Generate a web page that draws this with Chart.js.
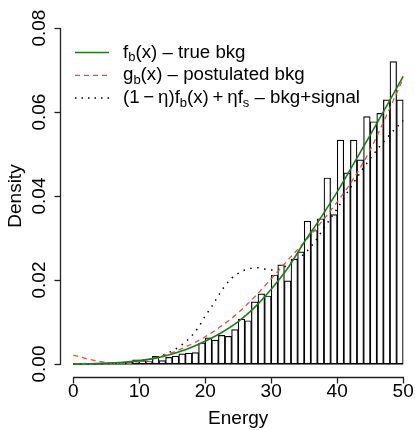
<!DOCTYPE html>
<html>
<head>
<meta charset="utf-8">
<script src="https://cdn.jsdelivr.net/npm/chart.js@4.4.1/dist/chart.umd.min.js"></script>
<style>
  html, body { margin: 0; padding: 0; background: #fff; }
  #chart { display: block; }
</style>
</head>
<body>
<canvas id="chart" width="415" height="430"></canvas>
<script>
// histogram: 50 bins of width 1 on 0..50 (density)
const binLeft = [0, 1, 2, 3, 4, 5, 6, 7, 8, 9, 10, 11, 12, 13, 14, 15, 16, 17, 18, 19,
  20, 21, 22, 23, 24, 25, 26, 27, 28, 29, 30, 31, 32, 33, 34, 35, 36, 37, 38, 39,
  40, 41, 42, 43, 44, 45, 46, 47, 48, 49];
const binDensity = [0, 0.0002, 0, 0.0001, 0.0001, 0.0002, 0.0001, 0.0004, 0.0004, 0.0010,
  0.0008, 0.0006, 0.0018, 0.0008, 0.0016, 0.0019, 0.0024, 0.0026, 0.0027, 0.0050,
  0.0062, 0.0057, 0.0068, 0.0066, 0.0082, 0.0107, 0.0103, 0.0148, 0.0167, 0.0162,
  0.0212, 0.0236, 0.0198, 0.0250, 0.0267, 0.0340, 0.0318, 0.0346, 0.0443, 0.0356,
  0.0533, 0.0455, 0.0533, 0.0486, 0.0589, 0.0577, 0.0597, 0.0629, 0.0720, 0.0629];

// curves
const curveX = [0, 2.5, 5, 7.5, 10, 12.5, 15, 17.5, 20, 22.5, 25, 27.5, 30, 32.5, 35, 37.5, 40, 42.5, 45, 47.5, 50];
const trueBkg = [0, 0.00005, 0.0002, 0.0004, 0.0008, 0.0014, 0.0024, 0.0037, 0.0054, 0.0075, 0.0101,
  0.0135, 0.0178, 0.0228, 0.0290, 0.0348, 0.0410, 0.0477, 0.0545, 0.0615, 0.0685];
const postBkg = [0.0021, 0.0011, 0.0004, 0.0002, 0.0006, 0.0015, 0.0027, 0.0044, 0.0065, 0.0091, 0.0122,
  0.0160, 0.0203, 0.0247, 0.0290, 0.0336, 0.0386, 0.0442, 0.0510, 0.0593, 0.0680];

const sigX = [0, 5, 10, 12.5, 15, 16.5, 18, 19, 20, 21, 22, 23, 24, 25, 26, 27, 28, 29, 30, 31,
  32, 33, 34, 35, 36.5, 38, 40, 42.5, 45, 47.5, 50];
const bkgSignal = [0, 0.0001, 0.0007, 0.0015, 0.0031, 0.0046, 0.0068, 0.0088, 0.0114, 0.0137,
  0.0163, 0.0186, 0.0204, 0.0216, 0.0224, 0.0228, 0.0229, 0.0226, 0.0224, 0.0225,
  0.0231, 0.0240, 0.0250, 0.0262, 0.0289, 0.0324, 0.0370, 0.0432, 0.0489, 0.0538, 0.0580];

const xTicks = [0, 10, 20, 30, 40, 50];
const yTicks = [0, 0.02, 0.04, 0.06, 0.08];
const yTickLabels = ["0.00", "0.02", "0.04", "0.06", "0.08"];

const FONT = '"Liberation Sans", Arial, Helvetica, sans-serif';
const GREEN = "#1f7a1f";
const RED = "#e8503a";

const legendRows = [
  { color: GREEN, dash: [], width: 1.6,
    parts: [["f"], ["b", 1], ["(x) \u2013 true bkg"]] },
  { color: RED, dash: [5, 4], width: 1.3,
    parts: [["g"], ["b", 1], ["(x) \u2013 postulated bkg"]] },
  { color: "#000", dash: [1.5, 5], width: 1.5,
    parts: [["(1\u2009\u2212\u2009\u03b7)f"], ["b", 1], ["(x)\u2009+\u2009\u03b7f"], ["s", 1], [" \u2013 bkg+signal"]] }
];

function strokeLine(ctx, x1, y1, x2, y2) {
  ctx.beginPath();
  ctx.moveTo(x1, y1);
  ctx.lineTo(x2, y2);
  ctx.stroke();
}

const rAxes = {
  id: "rAxes",
  beforeDatasetsDraw(chart) {
    const ctx = chart.ctx;
    const x = chart.scales.x;
    const y = chart.scales.y;
    ctx.save();
    ctx.strokeStyle = "#000";
    ctx.lineWidth = 1.2;
    strokeLine(ctx, x.getPixelForValue(binLeft[0]), y.getPixelForValue(0),
      x.getPixelForValue(binLeft[binLeft.length - 1] + 1), y.getPixelForValue(0));
    ctx.restore();
  },
  afterDraw(chart) {
    const ctx = chart.ctx;
    const x = chart.scales.x;
    const y = chart.scales.y;
    const area = chart.chartArea;
    ctx.save();
    ctx.setLineDash([]);
    ctx.strokeStyle = "#222";
    ctx.lineWidth = 1.3;
    ctx.fillStyle = "#000";
    ctx.font = "19px " + FONT;

    // x axis
    const ax = Math.round(area.bottom) + 0.5;
    strokeLine(ctx, Math.round(x.getPixelForValue(xTicks[0])), ax,
      Math.round(x.getPixelForValue(xTicks[xTicks.length - 1])) + 1, ax);
    xTicks.forEach((t) => {
      const px = Math.round(x.getPixelForValue(t)) + 0.5;
      strokeLine(ctx, px, ax, px, ax + 6);
    });
    ctx.textAlign = "center";
    ctx.textBaseline = "middle";
    xTicks.forEach((t) => ctx.fillText(String(t), x.getPixelForValue(t), 392));
    ctx.fillText("Energy", (x.getPixelForValue(0) + x.getPixelForValue(50)) / 2, 419);

    // y axis
    const ay = Math.round(area.left) + 0.5;
    strokeLine(ctx, ay, Math.round(y.getPixelForValue(yTicks[0])) + 1,
      ay, Math.round(y.getPixelForValue(yTicks[yTicks.length - 1])));
    yTicks.forEach((t) => {
      const py = Math.round(y.getPixelForValue(t)) + 0.5;
      strokeLine(ctx, ay, py, ay - 6, py);
    });
    yTicks.forEach((t, i) => {
      ctx.save();
      ctx.translate(40, y.getPixelForValue(t));
      ctx.rotate(-Math.PI / 2);
      ctx.fillText(yTickLabels[i], 0, 0);
      ctx.restore();
    });
    ctx.save();
    ctx.translate(16, (y.getPixelForValue(0) + y.getPixelForValue(0.08)) / 2);
    ctx.rotate(-Math.PI / 2);
    ctx.fillText("Density", 0, 0);
    ctx.restore();

    // legend (no box, R style)
    legendRows.forEach((row, i) => {
      const ry = 52.5 + i * 22.8;
      ctx.save();
      ctx.strokeStyle = row.color;
      ctx.lineWidth = row.width;
      ctx.setLineDash(row.dash);
      strokeLine(ctx, 75, ry, 109, ry);
      ctx.restore();

      let cx = 123;
      ctx.textAlign = "left";
      ctx.textBaseline = "middle";
      row.parts.forEach(([text, sub]) => {
        ctx.font = (sub ? "13px " : "18.7px ") + FONT;
        ctx.fillText(text, cx, sub ? ry + 5 : ry);
        cx += ctx.measureText(text).width;
      });
    });
    ctx.restore();
  }
};

const lineStyle = {
  type: "line",
  pointRadius: 0,
  fill: false,
  cubicInterpolationMode: "monotone"
};

new Chart(document.getElementById("chart"), {
  data: {
    datasets: [
      {
        ...lineStyle,
        label: "true bkg",
        data: curveX.map((x, i) => ({ x, y: trueBkg[i] })),
        borderColor: GREEN,
        borderWidth: 1.6,
        order: 0
      },
      {
        ...lineStyle,
        label: "postulated bkg",
        data: curveX.map((x, i) => ({ x, y: postBkg[i] })),
        borderColor: RED,
        borderWidth: 1.3,
        borderDash: [5, 4],
        order: 1
      },
      {
        ...lineStyle,
        label: "bkg+signal",
        data: sigX.map((x, i) => ({ x, y: bkgSignal[i] })),
        borderColor: "#000",
        borderWidth: 1.5,
        borderDash: [1.5, 5.5],
        order: 2
      },
      {
        type: "bar",
        label: "histogram",
        data: binLeft.map((b, i) => ({ x: b + 0.5, y: binDensity[i] })),
        backgroundColor: "#fff",
        borderColor: "#000",
        borderWidth: 1.2,
        borderSkipped: false,
        barPercentage: 1,
        categoryPercentage: 1,
        grouped: false,
        order: 10
      }
    ]
  },
  options: {
    responsive: false,
    animation: false,
    layout: {
      padding: { left: 60, top: 26, right: 0, bottom: 53 }
    },
    plugins: {
      legend: { display: false },
      tooltip: { enabled: false }
    },
    scales: {
      x: {
        type: "linear",
        offset: false,
        min: -2,
        max: 51.79,
        display: false
      },
      y: {
        type: "linear",
        min: -0.0031,
        max: 0.0805,
        display: false
      }
    }
  },
  plugins: [rAxes]
});
</script>
</body>
</html>
